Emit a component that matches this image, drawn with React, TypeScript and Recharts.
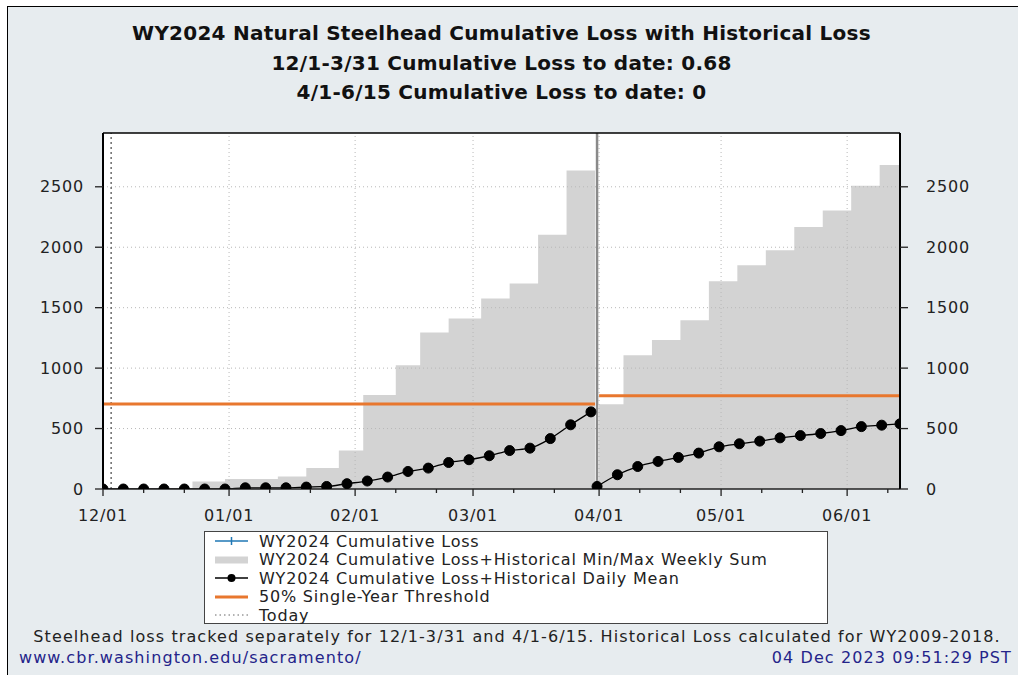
import React from 'react';
import { ComposedChart, Area, Line, XAxis, YAxis, CartesianGrid, ReferenceLine } from 'recharts';

// x values are days since 12/01/2023 (2024 is a leap year)
const monthTicks = [0, 31, 62, 91, 122, 152, 183];
const monthLabels = ['12/01', '01/01', '02/01', '03/01', '04/01', '05/01', '06/01'];
const minorTicks = [10, 20, 41, 51, 72, 82, 101, 111, 132, 142, 162, 172, 193];
const yTicks = [0, 500, 1000, 1500, 2000, 2500];
const xMax = 196;
const yMax = 2945;
const todayDay = 2;
const seasonSplitDay = 121.5;

// 12/1-3/31 season
const winterStepDays = [0, 22, 30, 43, 50, 58, 64, 72, 78, 85, 93, 100, 107, 114, 121];
const winterMaxSum = [0, 63, 83, 104, 173, 318, 778, 1023, 1295, 1411, 1576, 1700, 2104, 2634, 2634];
const winterMeanDays = [0, 5, 10, 15, 20, 25, 30, 35, 40, 45, 50, 55, 60, 65, 70, 75, 80, 85, 90, 95, 100, 105, 110, 115, 120];
const winterMean = [0, 0, 0, 0, 0, 0, 0, 10, 10, 10, 16, 21, 44, 66, 99, 145, 173, 219, 242, 275, 318, 338, 417, 531, 638];
const winterThresholdDays = [0, 121];
const winterThreshold = 704;

// 4/1-6/15 season
const springStepDays = [122, 128, 135, 142, 149, 156, 163, 170, 177, 184, 191, 196];
const springMaxSum = [701, 1106, 1232, 1397, 1719, 1851, 1975, 2167, 2304, 2508, 2681, 2681];
const springMeanDays = [121.5, 126.5, 131.5, 136.5, 141.5, 146.5, 151.5, 156.5, 161.5, 166.5, 171.5, 176.5, 181.5, 186.5, 191.5, 196];
const springMean = [21, 118, 186, 228, 261, 297, 349, 374, 396, 423, 442, 459, 483, 516, 528, 539];
const springThresholdDays = [122, 196];
const springThreshold = 772;

// WY2024 observed cumulative loss so far
const lossDays = [0, 1, 2];
const lossValues = [0, 0.68, 0.68];

const rows = (days: number[], vals: number[]) => days.map((day, i) => ({ day, value: vals[i] }));
const flat = (days: number[], v: number) => days.map((day) => ({ day, value: v }));

const FONT = '"DejaVu Sans", sans-serif';
const INK = '#222';
const GRAY = '#d3d3d3';
const ORANGE = '#e8772e';
const BLUE = '#1f77b4';
const NAVY = '#24248a';

const DayTick = (props: any) => {
  const { x, y, payload } = props;
  const i = monthTicks.indexOf(payload.value);
  const axisY = y - 7 - 14;
  return (
    <g>
      <line x1={x} x2={x} y1={axisY} y2={axisY + (i >= 0 ? 7 : 4)} stroke={INK} strokeWidth={1.3} />
      {i >= 0 && (
        <text x={x} y={y} dy="0.71em" textAnchor="middle" fill={INK} fontSize={16} letterSpacing={0.8}>
          {monthLabels[i]}
        </text>
      )}
    </g>
  );
};

const grid = { stroke: '#b8b8b8', strokeDasharray: '1 3', strokeWidth: 1 };

const legendItems = [
  { label: 'WY2024 Cumulative Loss', kind: 'plus' },
  { label: 'WY2024 Cumulative Loss+Historical Min/Max Weekly Sum', kind: 'fill' },
  { label: 'WY2024 Cumulative Loss+Historical Daily Mean', kind: 'dot' },
  { label: '50% Single-Year Threshold', kind: 'orange' },
  { label: 'Today', kind: 'today' },
];

const Swatch = ({ kind }: { kind: string }) => (
  <svg width={34} height={18} style={{ display: 'block' }}>
    {kind === 'plus' && (
      <g stroke={BLUE} strokeWidth={1.5}>
        <line x1={0} x2={33} y1={9} y2={9} />
        <line x1={16.5} x2={16.5} y1={5} y2={13} />
      </g>
    )}
    {kind === 'fill' && <rect x={0} y={5.5} width={33} height={7} fill={GRAY} />}
    {kind === 'dot' && (
      <g>
        <line x1={0} x2={33} y1={9} y2={9} stroke="#000" strokeWidth={1.5} />
        <circle cx={16.5} cy={9} r={4} fill="#000" />
      </g>
    )}
    {kind === 'orange' && <line x1={0} x2={33} y1={9} y2={9} stroke={ORANGE} strokeWidth={3} />}
    {kind === 'today' && <line x1={0} x2={33} y1={9} y2={9} stroke="#666" strokeWidth={1} strokeDasharray="1.5 3" />}
  </svg>
);

export default function App() {
  return (
    <div style={{ position: 'absolute', left: 0, top: 0, width: 1018, height: 675, background: '#fff', fontFamily: FONT, overflow: 'hidden' }}>
      <div style={{ position: 'absolute', left: 7, top: 6, right: 0, bottom: 0, background: '#e7ecef', borderTop: '1.5px solid #000', borderLeft: '1.5px solid #000' }} />

      <div style={{ position: 'absolute', left: 103, top: 19, width: 797, textAlign: 'center', fontWeight: 'bold', fontSize: 20, letterSpacing: 0.25, lineHeight: '29.5px', color: '#111', whiteSpace: 'nowrap' }}>
        <div>WY2024 Natural Steelhead Cumulative Loss with Historical Loss</div>
        <div>12/1-3/31 Cumulative Loss to date: 0.68</div>
        <div>4/1-6/15 Cumulative Loss to date: 0</div>
      </div>

      <div style={{ position: 'absolute', left: 0, top: 0 }}>
        <ComposedChart width={1018} height={675} margin={{ top: 133, right: 58, bottom: 156, left: 43 }}>
          <CartesianGrid fill="#fff" horizontal={false} vertical={false} />
          <XAxis
            dataKey="day"
            type="number"
            domain={[0, xMax]}
            ticks={[...monthTicks, ...minorTicks].sort((a, b) => a - b)}
            interval={0}
            allowDataOverflow
            height={30}
            tickSize={7}
            tickMargin={14}
            tickLine={false}
            tick={DayTick}
            axisLine={{ stroke: INK, strokeWidth: 1.5 }}
          />
          <YAxis
            yAxisId="left"
            width={60}
            domain={[0, yMax]}
            ticks={yTicks}
            interval={0}
            allowDataOverflow
            tickSize={8}
            tickMargin={11}
            tickLine={{ stroke: INK, strokeWidth: 1.3 }}
            axisLine={{ stroke: '#000', strokeWidth: 2 }}
            tick={{ fill: INK, fontSize: 16, letterSpacing: 0.8 }}
          />
          <YAxis
            yAxisId="right"
            orientation="right"
            width={60}
            domain={[0, yMax]}
            ticks={yTicks}
            interval={0}
            allowDataOverflow
            tickSize={8}
            tickMargin={18}
            tickLine={{ stroke: INK, strokeWidth: 1.3 }}
            axisLine={{ stroke: '#000', strokeWidth: 2 }}
            tick={{ fill: INK, fontSize: 16, letterSpacing: 0.8, textAnchor: 'start' }}
          />

          <Area yAxisId="left" data={rows(winterStepDays, winterMaxSum)} dataKey="value" type="stepAfter" fill={GRAY} fillOpacity={1} stroke="none" isAnimationActive={false} />
          <Area yAxisId="left" data={rows(springStepDays, springMaxSum)} dataKey="value" type="stepAfter" fill={GRAY} fillOpacity={1} stroke="none" isAnimationActive={false} />

          {yTicks.slice(1).map((v) => (
            <ReferenceLine key={'h' + v} yAxisId="left" y={v} {...grid} />
          ))}
          {monthTicks.slice(1).map((d) => (
            <ReferenceLine key={'v' + d} yAxisId="left" x={d} {...grid} />
          ))}
          <ReferenceLine yAxisId="left" x={todayDay} stroke="#555" strokeWidth={1.3} strokeDasharray="2 3" />
          <ReferenceLine yAxisId="left" x={seasonSplitDay} stroke="#8a8a8a" strokeWidth={2.5} />
          <ReferenceLine yAxisId="left" y={yMax} stroke="#000" strokeWidth={1.5} />

          <Line yAxisId="left" data={flat(winterThresholdDays, winterThreshold)} dataKey="value" stroke={ORANGE} strokeWidth={3} dot={false} isAnimationActive={false} />
          <Line yAxisId="left" data={flat(springThresholdDays, springThreshold)} dataKey="value" stroke={ORANGE} strokeWidth={3} dot={false} isAnimationActive={false} />

          <Line yAxisId="left" data={rows(lossDays, lossValues)} dataKey="value" stroke={BLUE} strokeWidth={1.5} dot={false} isAnimationActive={false} />
          <Line yAxisId="left" data={rows(winterMeanDays, winterMean)} dataKey="value" type="monotone" stroke="#000" strokeWidth={1.3} dot={{ r: 5, fill: '#000', stroke: '#000', strokeWidth: 1 }} isAnimationActive={false} />
          <Line yAxisId="left" data={rows(springMeanDays, springMean)} dataKey="value" type="monotone" stroke="#000" strokeWidth={1.3} dot={{ r: 5, fill: '#000', stroke: '#000', strokeWidth: 1 }} isAnimationActive={false} />
        </ComposedChart>
      </div>

      <div style={{ position: 'absolute', left: 204, top: 531, width: 612, height: 91, border: '1px solid #444', background: '#fff', paddingLeft: 10, boxSizing: 'content-box' }}>
        {legendItems.map((it) => (
          <div key={it.label} style={{ display: 'flex', alignItems: 'center', height: 18.5, fontSize: 16, letterSpacing: 0.8, color: INK, whiteSpace: 'nowrap' }}>
            <Swatch kind={it.kind} />
            <span style={{ marginLeft: 10 }}>{it.label}</span>
          </div>
        ))}
      </div>

      <div style={{ position: 'absolute', left: 7, width: 1020, top: 627, textAlign: 'center', fontSize: 16, letterSpacing: 1.1, lineHeight: '20px', color: INK, whiteSpace: 'nowrap' }}>
        Steelhead loss tracked separately for 12/1-3/31 and 4/1-6/15. Historical Loss calculated for WY2009-2018.
      </div>
      <div style={{ position: 'absolute', left: 19, top: 648, fontSize: 16, letterSpacing: 1.1, lineHeight: '20px', color: NAVY, whiteSpace: 'nowrap' }}>
        www.cbr.washington.edu/sacramento/
      </div>
      <div style={{ position: 'absolute', right: 6, top: 648, fontSize: 16, letterSpacing: 1.1, lineHeight: '20px', color: NAVY, whiteSpace: 'nowrap' }}>
        04 Dec 2023 09:51:29 PST
      </div>
    </div>
  );
}
